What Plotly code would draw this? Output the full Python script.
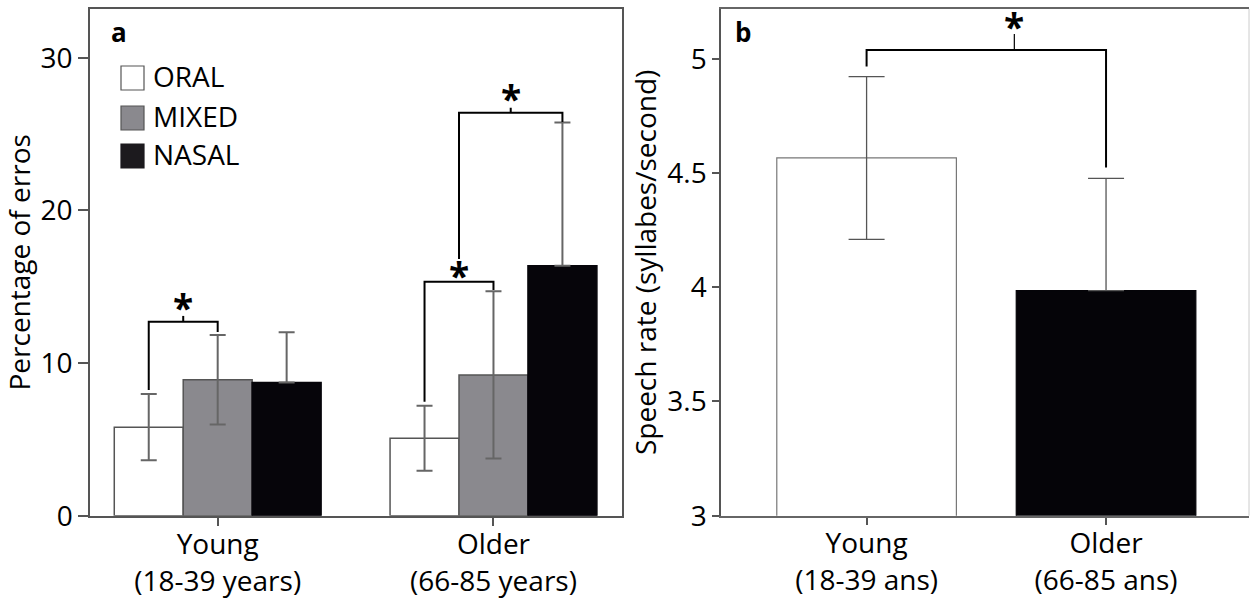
import plotly.graph_objects as go
from plotly.subplots import make_subplots

# ---------------- data ----------------
groups_a = ["Young<br>(18-39 years)", "Older<br>(66-85 years)"]
conditions = ["ORAL", "MIXED", "NASAL"]
oral_mean = [5.80, 5.08]
oral_sd = [2.17, 2.13]
mixed_mean = [8.91, 9.22]
mixed_sd = [2.93, 5.48]
nasal_mean = [8.72, 16.38]
nasal_sd = [3.30, 9.39]

groups_b = ["Young<br>(18-39 ans)", "Older<br>(66-85 ans)"]
rate_mean = [4.566, 3.985]
rate_sd = [0.356, 0.492]

# significance brackets: (x_left, x_right, height, left_end, right_end, star_x, tick_top, star_y)
brackets_a = [
    (-0.25, 0.0, 12.71, 8.24, 12.04, -0.125, 13.09, 13.94),
    (0.75, 1.0, 15.33, 7.47, 14.79, 0.875, 15.33, 16.06),
    (0.875, 1.25, 26.41, 16.82, 25.80, 1.0625, 26.73, 27.65),
]
brackets_b = [
    (0.0, 1.0, 5.038, 4.966, 4.524, 0.617, 5.109, 5.163),
]

# ---------------- style ----------------
FONT = "Open Sans"
W, H = 1252, 605
AX = "#555555"
C_ORAL, C_MIXED, C_NASAL = "#ffffff", "#8a898e", "#06050a"


def px_x(p):
    return p / W


def px_y(p):
    return 1 - p / H


fig = make_subplots(rows=1, cols=2)

means = [oral_mean, mixed_mean, nasal_mean]
sds = [oral_sd, mixed_sd, nasal_sd]
fills = [C_ORAL, C_MIXED, C_NASAL]
lines = [AX, AX, C_NASAL]
minus = [oral_sd, mixed_sd, [0 for _ in nasal_sd]]
for name, m, s, mn, fc, lc in zip(conditions, means, sds, minus, fills, lines):
    fig.add_trace(go.Bar(
        x=list(range(len(groups_a))), y=m, name=name,
        marker=dict(color=fc, line=dict(color=lc, width=1.5)),
        error_y=dict(type="data", array=s, arrayminus=mn, symmetric=False,
                     color="#666666", thickness=2, width=8),
        showlegend=False,
    ), row=1, col=1)

fig.add_trace(go.Bar(
    x=list(range(len(groups_b))), y=rate_mean,
    marker=dict(color=["#ffffff", "#050408"], line=dict(color=["#777777", "#050408"], width=1.2)),
    error_y=dict(type="data", array=rate_sd, arrayminus=[rate_sd[0], 0], symmetric=False,
                 color="#555555", thickness=1.3, width=18),
    showlegend=False,
), row=1, col=2)


def add_brackets(brs, row, col, tickw):
    for xl, xr, h, yl, yr, xs, tt, ys in brs:
        fig.add_trace(go.Scatter(x=[xl, xl, xr, xr], y=[yl, h, h, yr], mode="lines",
                                 line=dict(color="#000000", width=2), showlegend=False,
                                 hoverinfo="skip"), row=row, col=col)
        if tt > h:
            fig.add_trace(go.Scatter(x=[xs, xs], y=[h, tt], mode="lines",
                                     line=dict(color="#000000", width=tickw), showlegend=False,
                                     hoverinfo="skip"), row=row, col=col)
        fig.add_annotation(x=xs, y=ys, text="<b>*</b>", showarrow=False,
                           xref="x" if col == 1 else "x2", yref="y" if col == 1 else "y2",
                           font=dict(family=FONT, size=37, color="#000000"),
                           yshift=-5)


add_brackets(brackets_a, 1, 1, 2)
add_brackets(brackets_b, 1, 2, 1.2)

# legend (manual, large swatches)
leg_rows = [66, 106, 144]
leg_fill = ["#ffffff", "#8a898e", "#1c1a1e"]
leg_line = [AX, AX, "#1c1a1e"]
for name, top, fc, lc in zip(conditions, leg_rows, leg_fill, leg_line):
    fig.add_shape(type="rect", xref="paper", yref="paper",
                  x0=px_x(121), x1=px_x(144), y0=px_y(top + 24), y1=px_y(top),
                  fillcolor=fc, line=dict(color=lc, width=1.2))
    fig.add_annotation(xref="paper", yref="paper", x=px_x(151), y=px_y(top + 10),
                       xanchor="left", yanchor="middle", text=name, showarrow=False,
                       font=dict(family=FONT, size=28, color="#000000"))

# panel letters
fig.add_annotation(xref="paper", yref="paper", x=px_x(109), y=px_y(32), xanchor="left",
                   yanchor="middle", text="<b>a</b>", showarrow=False,
                   font=dict(family=FONT, size=26, color="#000000"))
fig.add_annotation(xref="paper", yref="paper", x=px_x(733), y=px_y(32), xanchor="left",
                   yanchor="middle", text="<b>b</b>", showarrow=False,
                   font=dict(family=FONT, size=26, color="#000000"))

# right border of panel b (light)
fig.add_shape(type="line", xref="x2 domain", yref="y2 domain", x0=1, x1=1, y0=0, y1=1,
              line=dict(color="#cccccc", width=1))

ydom = [px_y(515.7), px_y(9)]
tickfont = dict(family=FONT, size=28, color="#000000")

fig.update_layout(
    width=W, height=H, margin=dict(l=0, r=0, t=0, b=0),
    plot_bgcolor="#ffffff", paper_bgcolor="#ffffff",
    barmode="group", bargap=0.25, bargroupgap=0,
    font=dict(family=FONT, size=28, color="#000000"),
    xaxis=dict(domain=[px_x(90), px_x(622)], range=[-0.463, 1.466],
               tickvals=list(range(len(groups_a))), ticktext=groups_a,
               showline=True, linecolor=AX, linewidth=2, mirror=True,
               ticks="outside", ticklen=8, tickcolor=AX, tickwidth=1.5,
               ticklabelstandoff=-5,
               showgrid=False, zeroline=False, tickfont=tickfont, automargin=False),
    yaxis=dict(domain=ydom, range=[0, 33.2], tickvals=[0, 10, 20, 30],
               showline=True, linecolor=AX, linewidth=1.5, mirror=True,
               ticks="outside", ticklen=10, tickcolor=AX, tickwidth=1.5,
               showgrid=False, zeroline=False, tickfont=tickfont, automargin=False,
               title=dict(text="Percentage of erros", font=dict(family=FONT, size=28), standoff=6)),
    xaxis2=dict(domain=[px_x(721), px_x(1249)], range=[-0.608, 1.597],
                tickvals=list(range(len(groups_b))), ticktext=groups_b,
                showline=True, linecolor="#666666", linewidth=2, mirror=True,
                ticks="outside", ticklen=7, tickcolor=AX, tickwidth=1.5,
                ticklabelstandoff=-5,
                showgrid=False, zeroline=False, tickfont=tickfont, automargin=False),
    yaxis2=dict(domain=ydom, range=[3, 5.218], tickvals=[3, 3.5, 4, 4.5, 5],
                ticktext=["3", "3.5", "4", "4.5", "5"],
                showline=True, linecolor=AX, linewidth=1.5, mirror=False,
                ticks="outside", ticklen=7, tickcolor=AX, tickwidth=1.5,
                showgrid=False, zeroline=False, tickfont=tickfont, automargin=False,
                title=dict(text="Speech rate (syllabes/second)", font=dict(family=FONT, size=28), standoff=2)),
)

fig.write_html("out.html", config={"displayModeBar": False},
               post_script="document.body.style.margin='0px';document.body.style.overflow='hidden';")
